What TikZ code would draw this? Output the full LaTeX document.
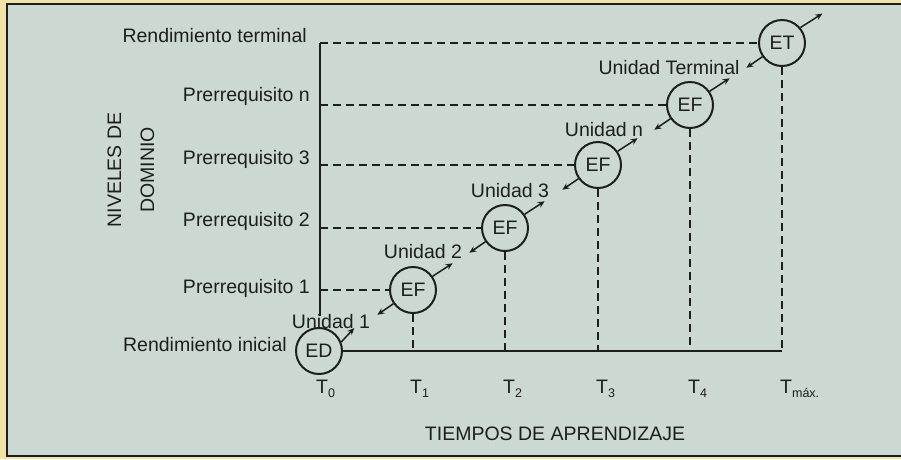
\documentclass[tikz,border=0pt]{standalone}
\usepackage{fontspec}
\setmainfont{Liberation Sans}
\usetikzlibrary{arrows.meta}
\definecolor{bgc}{HTML}{CBD9D2}
\definecolor{rim}{HTML}{EFE3A5}
\definecolor{ink}{HTML}{1E1E1E}
\begin{document}
\begin{tikzpicture}[x=1pt,y=-1pt,
  lab/.style={font=\fontsize{19.5}{22}\selectfont, text=ink, inner sep=0pt},
  state/.style={circle, draw=ink, line width=2pt, minimum size=46pt, inner sep=0pt,
                font=\fontsize{19.5}{22}\selectfont, text=ink},
  axisln/.style={draw=ink, line width=2.2pt},
  dashln/.style={draw=ink, line width=1.6pt, dash pattern=on 8pt off 5pt},
  arr/.style={draw=ink, line width=1.5pt, -{Stealth[length=7pt,width=6pt]}}]
\useasboundingbox (0,0) rectangle (901,459);
\fill[rim] (0,0) rectangle (901,459);
\fill[bgc] (7,4) rectangle (903,456);
\draw[ink, line width=2.5pt] (903,4) -- (7,4) -- (7,456) -- (903,456);

% states
\node[state] (ED)  at (319,351) {ED};
\node[state] (EF1) at (413,290) {EF};
\node[state] (EF2) at (505,228) {EF};
\node[state] (EF3) at (598,165) {EF};
\node[state] (EF4) at (690,105) {EF};
\node[state] (ET)  at (782,43)  {ET};

% axes
\coordinate (ytop) at (320,43);
\coordinate (ybot) at (320,316);
\coordinate (xend) at (782,351);
\coordinate (p1) at (320,290);
\coordinate (p2) at (320,228);
\coordinate (p3) at (320,165);
\coordinate (pn) at (320,105);
\draw[axisln] (ytop) -- (ybot);
\draw[axisln] (ED.east) -- (xend);

% dashed guides
\draw[dashln] (ytop) -- (ET.west);
\draw[dashln] (pn) -- (EF4.west);
\draw[dashln] (p3) -- (EF3.west);
\draw[dashln] (p2) -- (EF2.west);
\draw[dashln] (p1) -- (EF1.west);
\draw[dashln] (EF1.south) -- (EF1.south |- xend);
\draw[dashln] (EF2.south) -- (EF2.south |- xend);
\draw[dashln] (EF3.south) -- (EF3.south |- xend);
\draw[dashln] (EF4.south) -- (EF4.south |- xend);
\draw[dashln] (ET.south) -- (xend);

% level labels
\node[lab, anchor=base east] (lrt) at (307,42)  {Rendimiento terminal};
\node[lab, anchor=base east] (lpn) at (310,101) {Prerrequisito n};
\node[lab, anchor=base east] (lp3) at (310,164) {Prerrequisito 3};
\node[lab, anchor=base east] (lp2) at (310,226) {Prerrequisito 2};
\node[lab, anchor=base east] (lp1) at (310,293) {Prerrequisito 1};
\node[lab, anchor=base east] (lri) at (287,351) {Rendimiento inicial};

% unit labels
\node[lab, anchor=base] (u1) at (331,328) {Unidad 1};
\node[lab, anchor=base] (u2) at (423,258) {Unidad 2};
\node[lab, anchor=base] (u3) at (510,197) {Unidad 3};
\node[lab, anchor=base] (un) at (604,136) {Unidad n};
\node[lab, anchor=base] (ut) at (669,74)  {Unidad Terminal};

% arrows
\draw[arr] (ED.22)   -- ++(13,-14);
\draw[arr] (EF1.35)  -- ++(20,-13);
\draw[arr] (EF1.215) -- ++(-16,11);
\draw[arr] (EF2.35)  -- ++(20,-13);
\draw[arr] (EF2.215) -- ++(-16,11);
\draw[arr] (EF3.35)  -- ++(20,-13);
\draw[arr] (EF3.215) -- ++(-16,11);
\draw[arr] (EF4.35)  -- ++(20,-13);
\draw[arr] (EF4.215) -- ++(-16,11);
\draw[arr] (ET.40)   -- ++(22,-14);
\draw[arr] (ET.215)  -- ++(-16,11);

% time labels
\newcommand{\tsub}[1]{\raisebox{-4pt}{\fontsize{12.5}{13}\selectfont #1}}
\node[lab, anchor=base west] (t0) at (316,393) {T\tsub{0}};
\node[lab, anchor=base west] (t1) at (410,393) {T\tsub{1}};
\node[lab, anchor=base west] (t2) at (503,393) {T\tsub{2}};
\node[lab, anchor=base west] (t3) at (596,393) {T\tsub{3}};
\node[lab, anchor=base west] (t4) at (688,393) {T\tsub{4}};
\node[lab, anchor=base west] (tm) at (780,393) {T\tsub{máx.}};

% axis titles
\node[lab, anchor=base] (xt) at (555,440) {TIEMPOS DE APRENDIZAJE};
\node[lab, rotate=90, align=center, font=\fontsize{19.5}{33}\selectfont] (yt) at (131,170) {NIVELES DE\\DOMINIO};
\end{tikzpicture}
\end{document}
